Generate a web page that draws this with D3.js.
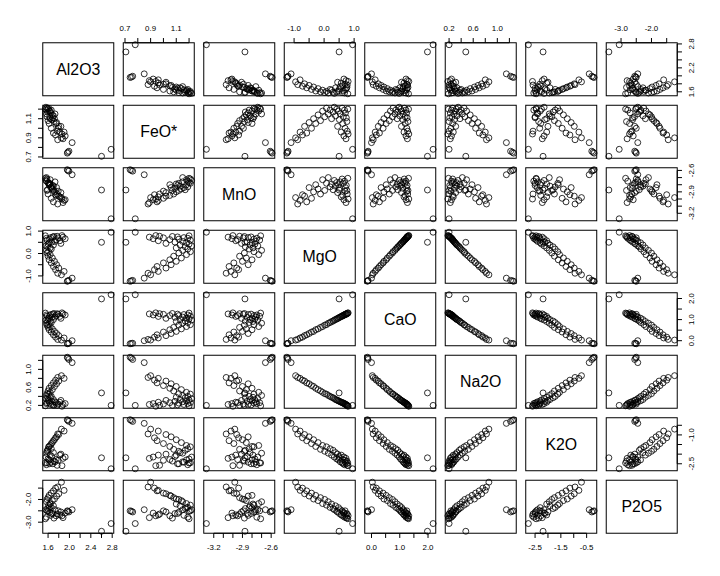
<!DOCTYPE html>
<html><head><meta charset="utf-8">
<script src="https://cdn.jsdelivr.net/npm/d3@7"></script>
<style>
body{margin:0;background:#fff}
svg{display:block}
text{font-family:"Liberation Sans",Arial,Helvetica,sans-serif;fill:#000}
</style>
</head><body>
<svg id="chart" width="720" height="576"></svg>
<script>
// ---------- data (first 6 rows are the outlying samples, then the main group) ----------
const varNames = ["Al2O3","FeO*","MnO","MgO","CaO","Na2O","K2O","P2O5"];
const Al2O3 = [2.78,2.60,1.96,1.97,1.99,2.05,
  1.85,1.78,1.90,1.74,1.80,1.70,1.76,1.66,1.72,1.62,1.68,1.60,1.64,1.58,1.61,1.57,1.66,1.64,1.59,1.56,1.70,1.60,1.84,1.62,1.67,1.73,1.82,1.58,1.75,1.63,1.92,1.57,1.79,1.65,1.88,1.69,1.71,1.77,1.55,1.86];
const FeO = [0.78,0.707,0.74,0.75,0.76,0.85,
  0.90,0.88,0.96,0.93,1.02,0.95,1.06,1.00,1.10,1.05,1.14,1.08,1.18,1.12,1.21,1.15,1.19,1.10,1.17,1.22,1.13,1.20,1.02,1.18,1.09,1.15,0.96,1.21,1.05,1.12,0.92,1.19,1.00,1.16,0.89,1.11,1.07,0.97,1.20,0.94];
const MnO = [-3.277,-2.874,-2.59,-2.60,-2.61,-2.66,
  -2.98,-3.07,-3.02,-2.94,-2.96,-3.04,-2.84,-2.99,-2.90,-2.80,-2.86,-2.93,-2.73,-2.88,-2.78,-2.70,-2.83,-2.79,-2.87,-2.74,-2.82,-2.77,-2.91,-2.80,-2.85,-2.76,-2.97,-2.72,-2.95,-2.78,-3.01,-2.75,-2.89,-2.84,-3.05,-2.81,-2.88,-2.93,-2.71,-3.00];
const MgO = [0.95,0.50,-1.24,-1.22,-1.20,-1.10,
  -0.95,-0.88,-0.80,-0.72,-0.65,-0.58,-0.50,-0.42,-0.35,-0.28,-0.20,-0.12,-0.05,0.02,0.08,0.14,0.20,0.25,0.30,0.34,0.38,0.42,0.45,0.48,0.51,0.54,0.57,0.60,0.62,0.64,0.66,0.68,0.70,0.71,0.73,0.74,0.76,0.77,0.79,0.80];
const CaO = [2.18,1.98,-0.146,-0.13,-0.12,0.00,
  0.03,0.06,0.13,0.17,0.24,0.28,0.34,0.41,0.44,0.52,0.56,0.63,0.67,0.74,0.76,0.83,0.86,0.91,0.93,0.98,1.00,1.03,1.06,1.07,1.11,1.12,1.15,1.16,1.19,1.19,1.22,1.22,1.25,1.24,1.27,1.26,1.29,1.28,1.31,1.32];
const Na2O = [0.20,0.477,1.27,1.25,1.22,1.15,
  0.86,0.82,0.80,0.76,0.74,0.70,0.68,0.64,0.62,0.58,0.55,0.52,0.49,0.46,0.45,0.42,0.40,0.38,0.37,0.35,0.33,0.32,0.31,0.30,0.29,0.28,0.27,0.26,0.26,0.25,0.24,0.24,0.23,0.22,0.22,0.21,0.20,0.20,0.19,0.18];
const K2O = [-2.76,-2.19,-0.21,-0.25,-0.30,-0.40,
  -0.70,-0.95,-0.80,-1.15,-0.98,-1.30,-1.10,-1.45,-1.25,-1.60,-1.40,-1.75,-1.55,-1.85,-1.62,-1.95,-1.72,-2.05,-1.80,-2.15,-1.92,-2.25,-2.00,-2.30,-2.12,-2.40,-2.05,-2.45,-2.28,-2.50,-2.15,-2.55,-2.32,-2.42,-2.22,-2.50,-2.36,-2.58,-2.46,-2.60];
const P2O5 = [-3.06,-3.40,-2.50,-2.52,-2.55,-2.45,
  -1.24,-1.45,-1.60,-1.50,-1.75,-1.62,-1.85,-1.72,-1.98,-1.82,-2.05,-1.92,-2.18,-2.00,-2.25,-2.10,-2.35,-2.20,-2.40,-2.45,-2.28,-2.52,-2.55,-2.36,-2.62,-2.45,-2.68,-2.50,-2.72,-2.56,-2.60,-2.78,-2.50,-2.70,-2.80,-2.62,-2.82,-2.64,-2.85,-2.72];
const tickValues = [
  [1.6,1.8,2.0,2.2,2.4,2.6,2.8],
  [0.7,0.8,0.9,1.0,1.1,1.2],
  [-3.2,-3.1,-3.0,-2.9,-2.8,-2.7,-2.6],
  [-1.0,-0.5,0.0,0.5,1.0],
  [0.0,0.5,1.0,1.5,2.0],
  [0.2,0.4,0.6,0.8,1.0,1.2],
  [-2.5,-2.0,-1.5,-1.0,-0.5],
  [-3.5,-3.0,-2.5,-2.0,-1.5]
];
const tickLabels = [
  ["1.6","1.8","2.0","2.2","2.4","2.6","2.8"],
  ["0.7","0.8","0.9","1.0","1.1","1.2"],
  ["-3.2","-3.1","-3.0","-2.9","-2.8","-2.7","-2.6"],
  ["-1.0","-0.5","0.0","0.5","1.0"],
  ["0.0","0.5","1.0","1.5","2.0"],
  ["0.2","0.4","0.6","0.8","1.0","1.2"],
  ["-2.5","-2.0","-1.5","-1.0","-0.5"],
  ["-3.5","-3.0","-2.5","-2.0","-1.5"]
];
const columns = [Al2O3,FeO,MnO,MgO,CaO,Na2O,K2O,P2O5];

// ---------- layout (R pairs defaults on a 720x576 device) ----------
const W = 720, H = 576, n = 8;
const lineH = 9.504;            // one margin line at cex 0.66
const oma = 4*lineH;
const gap = lineH;
const pitchX = (W - 2*oma)/n, pitchY = (H - 2*oma)/n;
const pw = pitchX - gap, ph = pitchY - gap;
const axisFont = 7.92, labelFont = 15.84, tickLen = 0.5*lineH;

const svg = d3.select("#chart");
svg.append("rect").attr("width",W).attr("height",H).attr("fill","#fff");

const scalesX = columns.map(col => {
  const [a,b] = d3.extent(col); const p = 0.04*(b-a);
  return d3.scaleLinear().domain([a-p,b+p]).range([0,pw]);
});
const scalesY = columns.map(col => {
  const [a,b] = d3.extent(col); const p = 0.04*(b-a);
  return d3.scaleLinear().domain([a-p,b+p]).range([ph,0]);
});

function measure(txt){
  const t = svg.append("text").attr("font-size",axisFont).text(txt);
  const w = t.node().getComputedTextLength(); t.remove(); return w;
}
const mWidth = measure("m");

// R style axis: side 1 bottom, 2 left, 3 top, 4 right
function drawAxis(g, side, k) {
  const horiz = (side===1||side===3);
  const sc = horiz ? scalesX[k] : scalesY[k];
  const [d0,d1] = sc.domain();
  const vals = tickValues[k].map((v,i)=>({v, lab: tickLabels[k][i]}))
    .filter(t => t.v>=Math.min(d0,d1)-1e-9 && t.v<=Math.max(d0,d1)+1e-9);
  const ax = g.append("g");
  const edge = side===1 ? ph : side===3 ? 0 : side===2 ? 0 : pw;
  const dir = (side===1||side===4) ? 1 : -1;
  const pos = vals.map(t=>sc(t.v));
  if (horiz) {
    ax.append("line").attr("x1",d3.min(pos)).attr("x2",d3.max(pos)).attr("y1",edge).attr("y2",edge).attr("stroke","#000");
    vals.forEach(t=>ax.append("line").attr("x1",sc(t.v)).attr("x2",sc(t.v)).attr("y1",edge).attr("y2",edge+dir*tickLen).attr("stroke","#000"));
  } else {
    ax.append("line").attr("y1",d3.min(pos)).attr("y2",d3.max(pos)).attr("x1",edge).attr("x2",edge).attr("stroke","#000");
    vals.forEach(t=>ax.append("line").attr("y1",sc(t.v)).attr("y2",sc(t.v)).attr("x1",edge).attr("x2",edge+dir*tickLen).attr("stroke","#000"));
  }
  // labels: skip any that would come closer than one "m" to the previous one
  const order = vals.map(t=>({...t, p: sc(t.v)})).sort((a,b)=> horiz ? a.p-b.p : b.p-a.p);
  let last = -Infinity;
  order.forEach(t=>{
    const w = measure(t.lab);
    const c = horiz ? t.p : -t.p;
    const lo = c - w/2, hi = c + w/2;
    if (lo < last + mWidth) return;
    last = hi;
    if (side===1) ax.append("text").attr("x",t.p).attr("y",edge+1.8*lineH).attr("text-anchor","middle").attr("font-size",axisFont).text(t.lab);
    if (side===3) ax.append("text").attr("x",t.p).attr("y",edge-1.2*lineH).attr("text-anchor","middle").attr("font-size",axisFont).text(t.lab);
    if (side===2) ax.append("text").attr("transform",`translate(${edge-1.2*lineH},${t.p}) rotate(-90)`).attr("text-anchor","middle").attr("font-size",axisFont).text(t.lab);
    if (side===4) ax.append("text").attr("transform",`translate(${edge+1.8*lineH},${t.p}) rotate(-90)`).attr("text-anchor","middle").attr("font-size",axisFont).text(t.lab);
  });
}

for (let i=0;i<n;i++){        // row (y variable)
  for (let j=0;j<n;j++){      // column (x variable)
    const x0 = oma + j*pitchX + gap/2, y0 = oma + i*pitchY + gap/2;
    const g = svg.append("g").attr("transform",`translate(${x0},${y0})`);
    if (i===j) {
      g.append("text").attr("x",pw/2).attr("y",ph/2).attr("dy","0.36em")
        .attr("text-anchor","middle").attr("font-size",labelFont).text(varNames[i]);
    } else {
      const xs = scalesX[j], ys = scalesY[i];
      g.selectAll("circle").data(d3.range(columns[0].length)).join("circle")
        .attr("cx",d=>xs(columns[j][d])).attr("cy",d=>ys(columns[i][d]))
        .attr("r",2.97).attr("fill","none").attr("stroke","#000").attr("stroke-width",0.8);
    }
    g.append("rect").attr("width",pw).attr("height",ph).attr("fill","none").attr("stroke","#000").attr("stroke-width",1);
    if (i===0 && j%2===1) drawAxis(g,3,j);
    if (i===n-1 && j%2===0) drawAxis(g,1,j);
    if (j===0 && i%2===1) drawAxis(g,2,i);
    if (j===n-1 && i%2===0) drawAxis(g,4,i);
  }
}
</script>
</body></html>
